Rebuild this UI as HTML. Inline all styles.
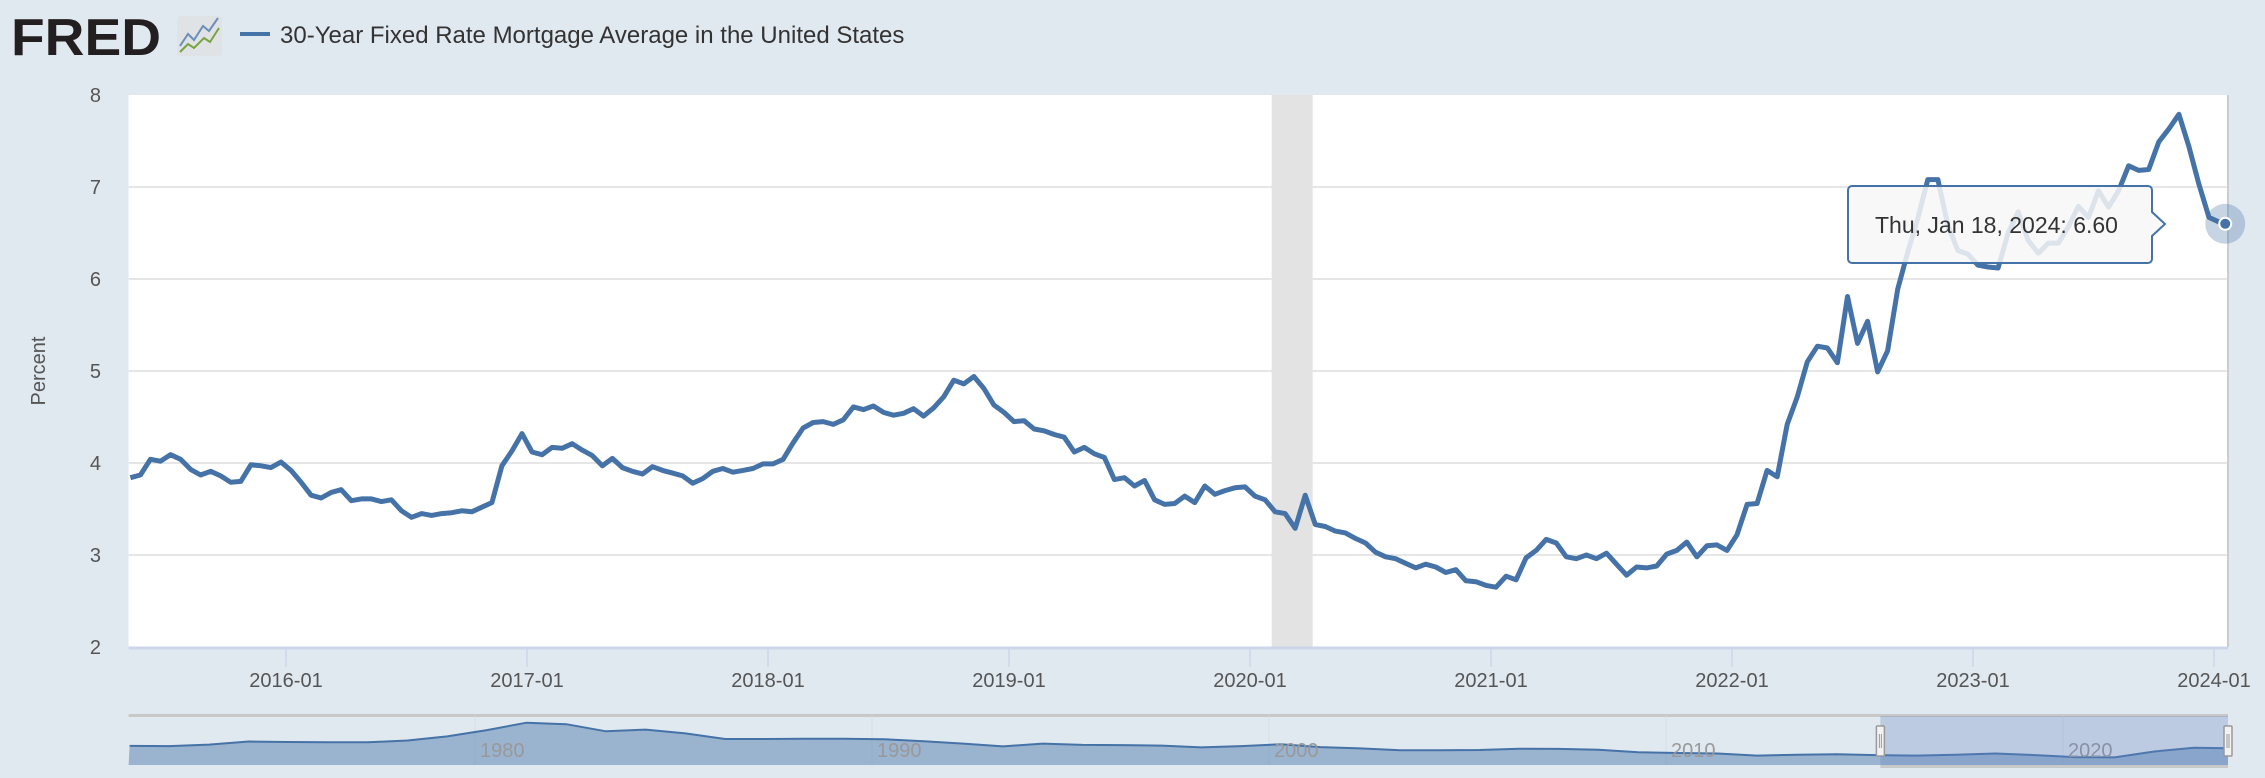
<!DOCTYPE html>
<html><head><meta charset="utf-8">
<style>
html,body{margin:0;padding:0;background:#e1e9f0;width:2265px;height:778px;overflow:hidden;font-family:"Liberation Sans",sans-serif;}
svg{display:block}
</style></head>
<body>
<svg id="chart" width="2265" height="778" viewBox="0 0 2265 778" xmlns="http://www.w3.org/2000/svg">
<rect width="2265" height="778" fill="#e1e9f0"/>
<g>
<text x="11" y="55" font-size="52" font-weight="bold" fill="#231f20" font-family="Liberation Sans, sans-serif" textLength="150" lengthAdjust="spacingAndGlyphs">FRED</text>
<rect x="177" y="16" width="45" height="40" rx="3" fill="#dfe3e6"/>
<polyline points="180,46 188,34 194,40 203,26 209,31 218,18" fill="none" stroke="#6d8fb6" stroke-width="2"/>
<polyline points="180,52 188,44 194,48 204,38 210,42 219,28" fill="none" stroke="#7aa33f" stroke-width="2"/>
</g>
<g>
<line x1="240" y1="34" x2="270" y2="34" stroke="#4572a7" stroke-width="4"/>
<text x="280" y="43" font-size="24" fill="#333">30-Year Fixed Rate Mortgage Average in the United States</text>
</g>
<rect x="128.6" y="95" width="2099" height="552" fill="#fff"/>
<g id="grid"></g>
<rect id="recession" fill="#e3e3e3"/>
<g id="yticks"></g>
<g id="xticks"></g>
<line x1="2228" y1="95" x2="2228" y2="647" stroke="#ccc" stroke-width="2"/>
<text x="0" y="0" transform="translate(45,371) rotate(-90)" text-anchor="middle" font-size="20" fill="#555">Percent</text>
<path id="series" fill="none" stroke="#4572a7" stroke-width="5" stroke-linejoin="round"/>
<g id="nav"></g>
<g>
<path d="M1852,186 H2148 a4,4 0 0 1 4,4 V212 L2165,224 L2152,236 V259 a4,4 0 0 1 -4,4 H1852 a4,4 0 0 1 -4,-4 V190 a4,4 0 0 1 4,-4 Z" fill="rgba(247,247,247,0.85)" stroke="#4572a7" stroke-width="2"/>
<text x="1875" y="233" font-size="23" fill="#333">Thu, Jan 18, 2024: <tspan fill="#333" font-weight="normal">6.60</tspan></text>
</g>
<circle id="halo" cx="-100" cy="-100" r="20" fill="rgba(69,114,167,0.3)"/>
<circle id="hpt" cx="-100" cy="-100" r="6" fill="#4572a7" stroke="#fff" stroke-width="2"/>
</svg>
<script>
const yTicks=[2,3,4,5,6,7,8];
const xTickLabels=["2016-01","2017-01","2018-01","2019-01","2020-01","2021-01","2022-01","2023-01","2024-01"];
const xTickYears=[2016,2017,2018,2019,2020,2021,2022,2023,2024];
const recessionStart=2020.09, recessionEnd=2020.26;
const startMonth="2015-05";
const rates=[3.84,3.87,4.04,4.02,4.09,4.04,3.93,3.87,3.91,3.86,3.79,3.80,3.98,3.97,3.95,4.01,
3.92,3.79,3.65,3.62,3.68,3.71,3.59,3.61,3.61,3.58,3.60,3.48,3.41,3.45,3.43,3.45,3.46,3.48,3.47,3.52,3.57,3.97,4.13,4.32,
4.12,4.09,4.17,4.16,4.21,4.14,4.08,3.97,4.05,3.95,3.91,3.88,3.96,3.92,3.89,3.86,3.78,3.83,3.91,3.94,3.90,3.92,3.94,3.99,
3.99,4.04,4.22,4.38,4.44,4.45,4.42,4.47,4.61,4.58,4.62,4.55,4.52,4.54,4.59,4.51,4.60,4.72,4.90,4.86,4.94,4.81,4.63,4.55,
4.45,4.46,4.37,4.35,4.31,4.28,4.12,4.17,4.10,4.06,3.82,3.84,3.75,3.81,3.60,3.55,3.56,3.64,3.57,3.75,3.66,3.70,3.73,3.74,
3.64,3.60,3.47,3.45,3.29,3.65,3.33,3.31,3.26,3.24,3.18,3.13,3.03,2.98,2.96,2.91,2.86,2.90,2.87,2.81,2.84,2.72,2.71,2.67,
2.65,2.77,2.73,2.97,3.05,3.17,3.13,2.98,2.96,3.00,2.96,3.02,2.90,2.78,2.87,2.86,2.88,3.01,3.05,3.14,2.98,3.10,3.11,3.05,
3.22,3.55,3.56,3.92,3.85,4.42,4.72,5.10,5.27,5.25,5.09,5.81,5.30,5.54,4.99,5.22,5.89,6.29,6.66,7.08,7.08,6.58,6.31,6.27,
6.15,6.13,6.12,6.50,6.73,6.42,6.28,6.39,6.39,6.57,6.79,6.67,6.96,6.78,6.96,7.23,7.18,7.19,7.49,7.63,7.79,7.44,7.03,6.67,
6.62,6.60];
const navYears=[1971,1972,1973,1974,1975,1976,1977,1978,1979,1980,1981,1982,1983,1984,1985,1986,1987,1988,1989,1990,1991,1992,1993,1994,1995,1996,1997,1998,1999,2000,2001,2002,2003,2004,2005,2006,2007,2008,2009,2010,2011,2012,2013,2014,2015,2016,2017,2018,2019,2020,2021,2022,2023,2024];
const navRates=[7.5,7.4,8.0,9.2,9.0,8.9,8.9,9.6,11.2,13.7,16.6,16.0,13.2,13.9,12.4,10.2,10.2,10.3,10.3,10.1,9.3,8.4,7.3,8.4,7.9,7.8,7.6,6.9,7.4,8.1,7.0,6.5,5.8,5.8,5.9,6.4,6.3,6.0,5.0,4.7,4.5,3.7,4.0,4.2,3.9,3.7,4.0,4.5,3.9,3.1,3.0,5.3,6.8,6.6];
const navLabels=["1980","1990","2000","2010","2020"];
const navLabelYears=[1980,1990,2000,2010,2020];

const NS="http://www.w3.org/2000/svg";
const L=128.6,R=2228,T=95,B=647;
const X0=286,PX=241;
const xs=t=>X0+(t-2016)*PX;
const ys=v=>B-(v-2)*(B-T)/6;
function mk(tag,attrs,parent){const e=document.createElementNS(NS,tag);for(const k in attrs)e.setAttribute(k,attrs[k]);parent.appendChild(e);return e;}
const grid=document.getElementById('grid'),yt=document.getElementById('yticks'),xt=document.getElementById('xticks');
yTicks.forEach(v=>{
  if(v>2&&v<8){const g=mk('line',{x1:L,x2:R,y1:ys(v),y2:ys(v),stroke:'#e6e6e6','stroke-width':2},grid);
  
  }
  const t=mk('text',{x:101,y:ys(v)+7,'text-anchor':'end','font-size':20,fill:'#555'},yt);t.textContent=v;
  
  
});
const rec=document.getElementById('recession');
rec.setAttribute('x',xs(recessionStart));rec.setAttribute('y',T);rec.setAttribute('width',xs(recessionEnd)-xs(recessionStart));rec.setAttribute('height',B-T);
const ax=mk('line',{x1:L,x2:R,y1:B+1,y2:B+1,stroke:'#ccd6eb','stroke-width':3},xt);


xTickYears.forEach((yr,i)=>{
  const x=xs(yr);
  const tk=mk('line',{x1:x,x2:x,y1:B,y2:B+20,stroke:'#ccd6eb','stroke-width':1.5},xt);
  
  
  const t=mk('text',{x:x,y:687,'text-anchor':'middle','font-size':20,fill:'#555'},xt);t.textContent=xTickLabels[i];
  
  
});
const sy=+startMonth.slice(0,4),sm=+startMonth.slice(5,7);
let d='';
rates.forEach((v,i)=>{
  let t=sy+(sm-1+0.5*i+0.25)/12;
  if(i===rates.length-1)t=2024+17/365;
  d+=(i?'L':'M')+xs(t).toFixed(1)+','+ys(v).toFixed(1);
});
document.getElementById('series').setAttribute('d',d);
const lastVal=rates[rates.length-1],lastX=xs(2024+17/365);
['halo','hpt'].forEach(id=>{const c=document.getElementById(id);c.setAttribute('cx',lastX);c.setAttribute('cy',ys(lastVal));});
const nav=document.getElementById('nav');
const NT=716,NB=765,NX0=475,NPX=39.7;
const nx=t=>NX0+(t-1980)*NPX, ny=v=>NB-v*2.55;
const navTopBorder=mk('rect',{x:L,y:NT-2,width:R-L,height:3,fill:'#c8c8c8'},nav);


navLabelYears.forEach((yr,i)=>{
  const g=mk('line',{x1:nx(yr),x2:nx(yr),y1:NT,y2:NB,stroke:'#d6dde4','stroke-width':1},nav);
  
  
});
let nd='M'+L+','+NB;
let nl='';
navRates.forEach((v,i)=>{
  const p=Math.min(Math.max(nx(navYears[i]+0.3),L),R).toFixed(1)+','+ny(v).toFixed(1);
  nd+='L'+p; nl+=(i?'L':'M')+p;
});
nd+='L'+R+','+NB+'Z';
const navArea=mk('path',{d:nd,fill:'rgba(69,114,167,0.45)'},nav);


const navLine=mk('path',{d:nl,fill:'none',stroke:'#4572a7','stroke-width':2},nav);


navLabelYears.forEach((yr,i)=>{
  const t=mk('text',{x:nx(yr)+5,y:NB-8,'font-size':20,fill:'#999'},nav);t.textContent=navLabels[i];
  
  
});
const selX=nx(2015.4);
const sel=mk('rect',{x:selX,y:NT,width:R-selX,height:NB-NT,fill:'rgba(102,133,194,0.3)'},nav);


const selBottom=mk('rect',{x:selX,y:NB,width:R-selX,height:3,fill:'#c8c8c8'},nav);


[selX,R].forEach((hx,i)=>{
  const h=mk('rect',{x:hx-4,y:NT+10,width:8,height:30,fill:'#f2f2f2',stroke:'#999','stroke-width':1.5,rx:1},nav);
  
  
  mk('line',{x1:hx-1,x2:hx-1,y1:NT+18,y2:NT+32,stroke:'#999'},nav);
  mk('line',{x1:hx+1,x2:hx+1,y1:NT+18,y2:NT+32,stroke:'#999'},nav);
});
</script>
</body></html>
